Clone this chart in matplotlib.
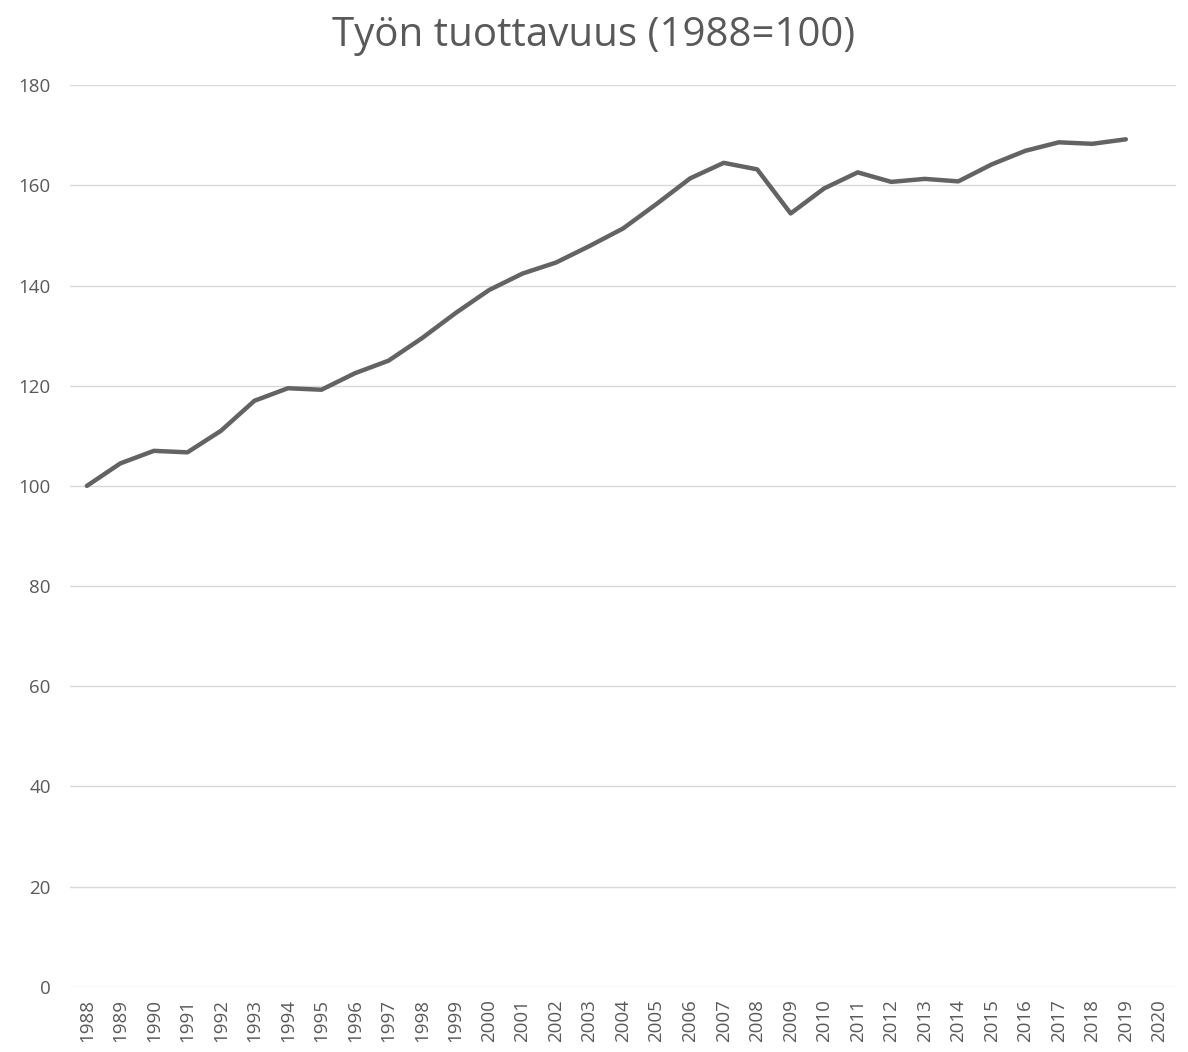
import matplotlib.pyplot as plt
import numpy as np

plt.rcParams['font.family'] = ['Open Sans', 'DejaVu Sans']

# Data
years = [str(y) for y in range(1988, 2021)]
values = [100.0, 104.5, 107.0, 106.7, 111.0, 117.0, 119.5, 119.2, 122.5, 125.0,
          129.5, 134.5, 139.1, 142.4, 144.6, 147.9, 151.4, 156.3, 161.4, 164.5,
          163.2, 154.4, 159.4, 162.6, 160.7, 161.3, 160.8, 164.2, 166.9, 168.6,
          168.3, 169.2, np.nan]
yticks = [0, 20, 40, 60, 80, 100, 120, 140, 160, 180]
title = 'Työn tuottavuus (1988=100)'

text_color = '#595959'
grid_color = '#d9d9d9'
line_color = '#636363'

fig = plt.figure(figsize=(11.88, 10.52), dpi=100)
ax = fig.add_axes([0.059, 0.062, 0.931, 0.857])

x = np.arange(len(years))
ax.plot(x, values, color=line_color, linewidth=3.2, solid_joinstyle='round',
        solid_capstyle='round', zorder=3)

ax.set_xlim(-0.5, len(years) - 0.5)
ax.set_ylim(0, 180)
ax.set_yticks(yticks)
ax.set_xticks(x)
ax.set_xticklabels(years, rotation=90, fontsize=13.5, color=text_color)
ax.tick_params(axis='y', labelsize=13.5, labelcolor=text_color, length=0, pad=14)
ax.tick_params(axis='x', length=0, pad=9)

ax.grid(axis='y', color=grid_color, linewidth=1.0)
ax.set_axisbelow(True)
for s in ax.spines.values():
    s.set_visible(False)

fig.text(0.5, 0.966, title, ha='center', va='center', fontsize=29, color=text_color)

plt.savefig('out.png', dpi=100, facecolor='white')
